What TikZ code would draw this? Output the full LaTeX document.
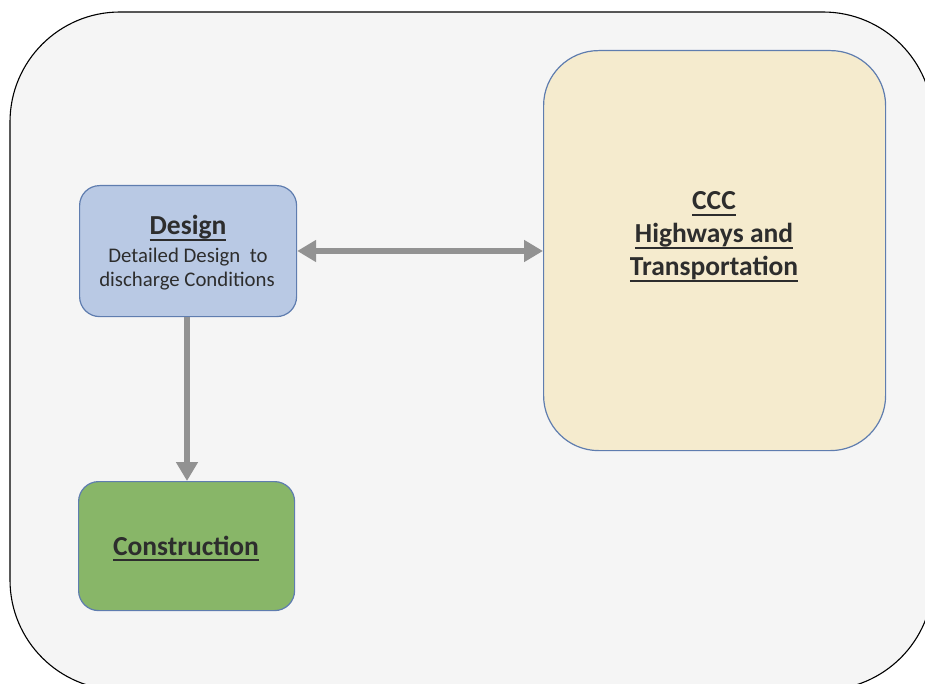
\documentclass[tikz,border=0pt]{standalone}
\usepackage{fontspec}
\setmainfont{Carlito}
\usetikzlibrary{arrows.meta}

\definecolor{panelgray}{RGB}{245,245,245}
\definecolor{designblue}{RGB}{185,201,228}
\definecolor{edgeblue}{RGB}{95,125,175}
\definecolor{cccbeige}{RGB}{245,235,206}
\definecolor{buildgreen}{RGB}{136,182,104}
\definecolor{linkgray}{RGB}{146,146,146}
\definecolor{textgray}{RGB}{45,45,45}

\newcommand{\headfont}{\fontsize{27.5}{33}\selectfont\bfseries}
\newcommand{\bodyfont}{\fontsize{20.8}{25}\selectfont}
% underline with a thicker bar, a fixed distance below the baseline
\newcommand{\ulbar}[1]{\leavevmode\vtop{\hbox{\raisebox{0pt}[\height][0pt]{#1}}\kern4pt\hrule height 1.8pt}}

\tikzset{
  stagebox/.style={draw=edgeblue, line width=1.2pt, rounded corners=20pt,
    anchor=north west, inner sep=0pt},
  head/.style={anchor=base, inner sep=0pt, text=textgray, font=\headfont},
  body/.style={anchor=base, inner sep=0pt, text=textgray, font=\bodyfont},
  link/.style={draw=linkgray, line width=5.5pt,
    -{Triangle[length=19pt,width=21pt]}},
}

\begin{document}
\begin{tikzpicture}[x=1pt,y=-1pt]
	\useasboundingbox (0,0) rectangle (925,684);
	\begin{scope}
	\clip (0,0) rectangle (925,684);
	\draw [fill=panelgray, line width=1.1pt, rounded corners=110pt] (10,12) rectangle (933,690);
	\end{scope}
	% stages
	\node (design) [stagebox, fill=designblue, minimum width=217pt, minimum height=131pt]
		at (79,185) {};
	\node (designhead) [head] at (188,235) {\ulbar{Design}};
	\node (designline1) [body] at (188,262) {Detailed Design~ to};
	\node (designline2) [body] at (187,287) {discharge Conditions};
	\node (ccc) [stagebox, fill=cccbeige, rounded corners=55pt, minimum width=342pt, minimum height=400pt]
		at (543,50) {};
	\node (ccchead1) [head] at (714,210) {\ulbar{CCC}};
	\node (ccchead2) [head] at (714,243) {\ulbar{Highways and}};
	\node (ccchead3) [head] at (714,276) {\ulbar{Transportation}};
	\node (build) [stagebox, fill=buildgreen, minimum width=216pt, minimum height=129pt]
		at (78,481) {};
	\node (buildhead) [head] at (186,555) {\ulbar{Construction}};
	% links
	\draw [link, {Triangle[length=19pt,width=21pt]}-{Triangle[length=19pt,width=21pt]}]
		(design.east |- 0,251) -- (ccc.west |- 0,251);
	\draw [link] (design.south -| 187,0) -- (build.north -| 187,0);
\end{tikzpicture}
\end{document}
